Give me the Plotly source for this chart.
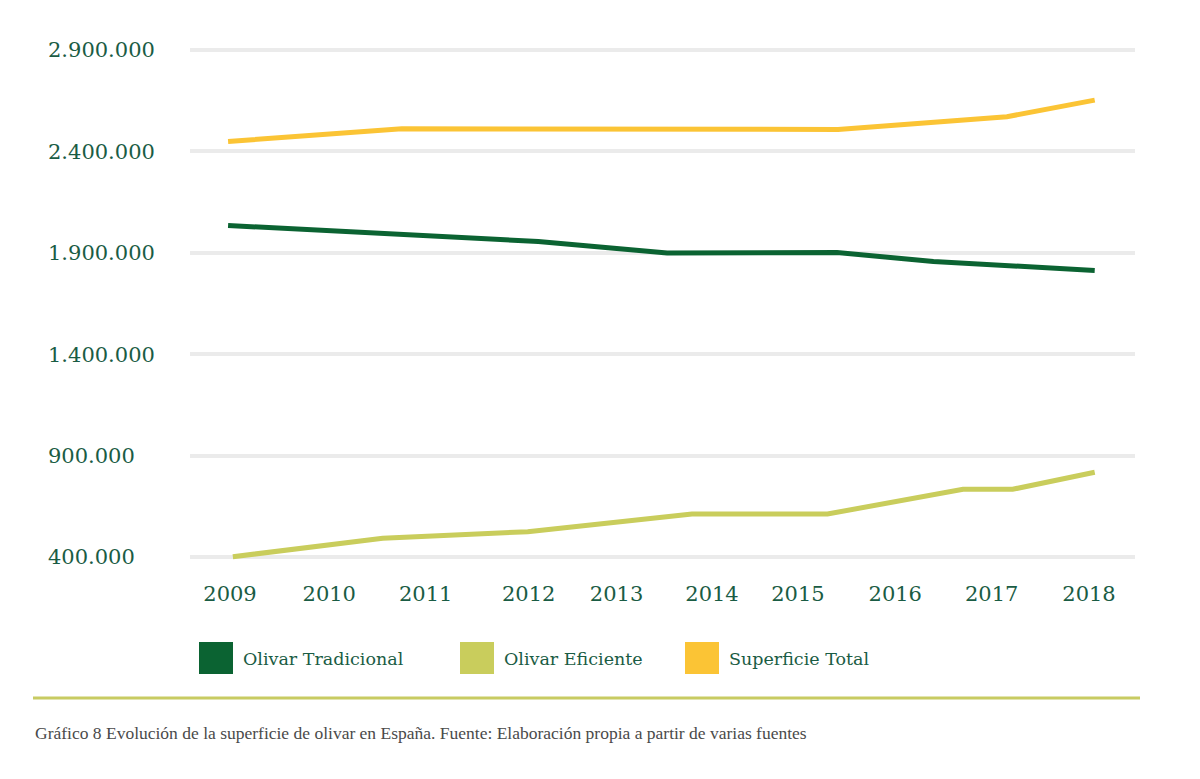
import plotly.graph_objects as go

# ---- data ----
series_names = ["Olivar Tradicional", "Olivar Eficiente", "Superficie Total"]

trad_x = [2008.98, 2012.23, 2013.58, 2015.36, 2016.37, 2018.06]
trad_y = [2034600, 1955700, 1898500, 1901500, 1857000, 1812700]

efic_x = [2009.03, 2010.60, 2012.12, 2013.84, 2015.26, 2016.68, 2017.20, 2018.06]
efic_y = [401500, 492000, 525000, 612000, 612000, 734000, 734000, 818000]

total_x = [2008.98, 2010.80, 2015.37, 2017.14, 2018.06]
total_y = [2449000, 2512000, 2508000, 2571000, 2653000]

year_labels = ["2009", "2010", "2011", "2012", "2013", "2014", "2015", "2016", "2017", "2018"]
year_label_pos = [2009.00, 2010.04, 2011.05, 2012.13, 2013.05, 2014.05, 2014.95, 2015.97, 2016.98, 2018.00]

y_ticks = [400000, 900000, 1400000, 1900000, 2400000, 2900000]
y_tick_labels = ["400.000", "900.000", "1.400.000", "1.900.000", "2.400.000", "2.900.000"]

caption = "Gráfico 8 Evolución de la superficie de olivar en España. Fuente: Elaboración propia a partir de varias fuentes"

# ---- styles ----
colors = ["#0b6332", "#c9cd5c", "#fbc435"]
text_color = "#1a5c44"
serif = "DejaVu Serif"

# page offset (browser body margin) compensation
OFF = 8
L, R, T, B = 190 - OFF, 73, 28 - OFF, 779 - (570 - OFF)

fig = go.Figure()
for name, xs, ys, c in [
    (series_names[0], trad_x, trad_y, colors[0]),
    (series_names[1], efic_x, efic_y, colors[1]),
    (series_names[2], total_x, total_y, colors[2]),
]:
    fig.add_trace(go.Scatter(x=xs, y=ys, mode="lines", name=name,
                             line=dict(color=c, width=5), showlegend=False))

fig.update_layout(
    width=1200, height=779,
    margin=dict(l=L, r=R, t=T, b=B),
    paper_bgcolor="white", plot_bgcolor="white",
    font=dict(family=serif, color=text_color),
    xaxis=dict(range=[2008.581, 2018.482], tickmode="array",
               tickvals=year_label_pos, ticktext=year_labels,
               showgrid=False, zeroline=False, showline=False, ticks="",
               tickfont=dict(size=21, family=serif, color=text_color),
               ticklabelstandoff=9),
    yaxis=dict(range=[335900, 3008480], tickmode="array",
               tickvals=y_ticks, ticktext=y_tick_labels,
               showgrid=True, gridcolor="#ebebeb", gridwidth=4,
               zeroline=False, showline=False, ticks="",
               ticklabelposition="inside",
               ticklabelstandoff=-145,
               tickfont=dict(size=21, family=serif, color=text_color)),
)

# legend made of squares + labels (paper coords, reference pixel positions)
W, H = 1200.0, 779.0
pw, ph = W - L - R, H - T - B
def px(x):
    return (x - OFF - L) / pw
def py(y):
    return (H - B - (y - OFF)) / ph

legend_items = [(199, series_names[0]), (460, series_names[1]), (685, series_names[2])]
for (x0, name), c in zip(legend_items, colors):
    fig.add_shape(type="rect", xref="paper", yref="paper",
                  x0=px(x0), x1=px(x0 + 34), y0=py(674), y1=py(642),
                  fillcolor=c, line=dict(width=0))
    fig.add_annotation(xref="paper", yref="paper", x=px(x0 + 42), y=py(659),
                       text=name, showarrow=False, xanchor="left", yanchor="middle",
                       font=dict(size=17.5, family=serif, color=text_color))

# separator line and caption
fig.add_shape(type="line", xref="paper", yref="paper",
              x0=px(33), x1=px(1140), y0=py(698), y1=py(698),
              line=dict(color="#c8cb62", width=3))
fig.add_annotation(xref="paper", yref="paper", x=px(33), y=py(733),
                   text=caption, showarrow=False, xanchor="left", yanchor="middle",
                   font=dict(size=17.5, family="Liberation Serif", color="#4a4a4a"))

fig.write_html("out.html")
